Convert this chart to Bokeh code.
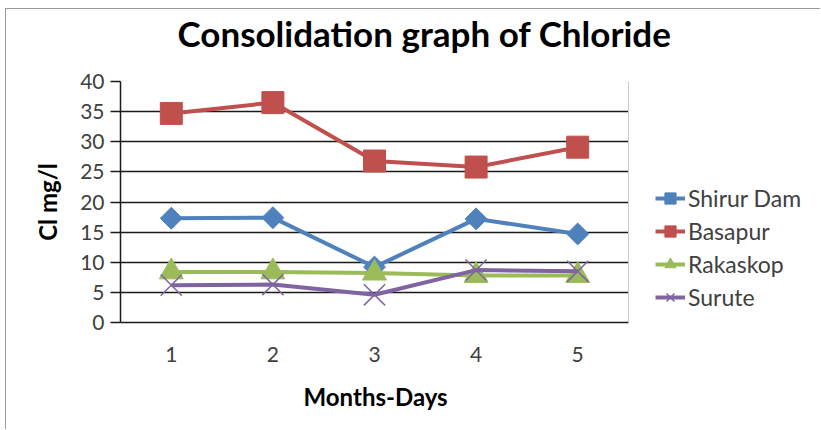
import math
from bokeh.plotting import figure
from bokeh.models import (Range1d, FixedTicker, Legend, LegendItem, ColumnDataSource,
                          Title, BoxAnnotation, Span)
from bokeh.embed import file_html
from bokeh.resources import INLINE

months = [1, 2, 3, 4, 5]
month_labels = ["1", "2", "3", "4", "5"]
shirur = [17.3, 17.4, 9.2, 17.2, 14.7]
basapur = [34.7, 36.5, 26.8, 25.8, 29.1]
rakaskop = [8.4, 8.4, 8.2, 7.8, 7.8]
surute = [6.2, 6.3, 4.6, 8.7, 8.5]
y_ticks = [0, 5, 10, 15, 20, 25, 30, 35, 40]

FONT = "Lato"
TXT = "#404040"

# layout (pixels)
W, H = 815, 421
LEFT, TOP, BOTTOM = 114, 71, 108
PLOT_W = 508                      # width of the data area
FRAME_W = W - LEFT                # frame extends to the right edge (legend lives there)
x_lo = months[0] - 0.5
x_hi_data = months[-1] + 0.5
x_hi = x_lo + (x_hi_data - x_lo) * FRAME_W / PLOT_W

p = figure(width=W, height=H, output_backend="svg", toolbar_location=None,
           x_range=Range1d(x_lo, x_hi), y_range=Range1d(y_ticks[0], y_ticks[-1]),
           min_border_left=LEFT, min_border_right=0, min_border_top=TOP,
           min_border_bottom=BOTTOM)
p.styles = {"border-top": "1px solid #9a9a9a", "border-left": "1px solid #9a9a9a",
            "margin-left": "5px", "margin-top": "8px"}

p.title.text = "Consolidation graph of Chloride"
p.title.text_font = FONT
p.title.text_font_size = "35px"
p.title.text_font_style = "bold"
p.title.text_color = "#000000"
p.title.align = "left"
p.title.offset = 57
p.title.standoff = 0

spacer = Title(text=" ", text_font_size="10px", standoff=15)
p.add_layout(spacer, "above")

p.outline_line_color = None
p.xgrid.grid_line_color = None
p.ygrid.grid_line_color = "#1a1a1a"
p.ygrid.grid_line_width = 1.5
p.ygrid.ticker = FixedTicker(ticks=y_ticks)

p.yaxis.ticker = FixedTicker(ticks=y_ticks)
p.yaxis.major_tick_out = 10
p.yaxis.major_tick_in = 0
p.yaxis.minor_tick_line_color = None
p.yaxis.major_label_standoff = 6
p.yaxis.axis_label = "Cl mg/l"
p.yaxis.axis_label_standoff = 15

p.xaxis.ticker = FixedTicker(ticks=months)
p.xaxis.bounds = (x_lo, x_hi_data)
p.xaxis.major_label_overrides = {m: l for m, l in zip(months, month_labels)}
p.xaxis.major_tick_out = 0
p.xaxis.major_tick_in = 0
p.xaxis.minor_tick_line_color = None
p.xaxis.major_label_standoff = 24

for ax in (p.xaxis, p.yaxis):
    ax.axis_line_color = "#1a1a1a"
    ax.axis_line_width = 1.5
    ax.major_tick_line_color = "#1a1a1a"
    ax.major_tick_line_width = 1.5
    ax.major_label_text_font = FONT
    ax.major_label_text_font_size = "21px"
    ax.major_label_text_color = TXT
    ax.axis_label_text_font = FONT
    ax.axis_label_text_font_size = "24px"
    ax.axis_label_text_font_style = "bold"
    ax.axis_label_text_color = "#000000"

# x-axis title, centred under the data area (not under the legend)
x_title = Title(text="Months-Days", text_font=FONT, text_font_size="24px",
                text_font_style="bold", text_color="#000000", align="left",
                offset=183, standoff=30)
p.add_layout(x_title, "below")

# blank out the grid to the right of the plot area, where the legend sits
p.add_layout(BoxAnnotation(left=x_hi_data, fill_color="white", fill_alpha=1,
                           line_color=None, level="underlay"))
p.add_layout(Span(location=x_hi_data, dimension="height", line_color="#c8c8c8",
                  line_width=1))

series = [
    ("Shirur Dam", shirur, "#4F81BD", "square", 15.5, math.pi / 4),
    ("Basapur", basapur, "#C0504D", "square", 22, 0),
    ("Rakaskop", rakaskop, "#9BBB59", "triangle", 24, 0),
    ("Surute", surute, "#8064A2", "x", 30, 0),
]

items = []
for name, vals, col, mk, sz, ang in series:
    src = ColumnDataSource(dict(x=months, y=vals))
    ln = p.line("x", "y", source=src, line_color=col, line_width=4)
    if mk == "x":
        sc = p.scatter("x", "y", source=src, marker=mk, size=sz, line_color=col,
                       line_width=1.5)
    else:
        sc = p.scatter("x", "y", source=src, marker=mk, size=sz, angle=ang,
                       fill_color=col, line_color=col, line_width=1)
    items.append(LegendItem(label=name, renderers=[ln, sc]))

legend = Legend(items=items, location=(535, 11))
legend.background_fill_alpha = 0
legend.border_line_color = None
legend.padding = 0
legend.margin = 0
legend.spacing = 5
legend.glyph_width = 30
legend.glyph_height = 28
legend.label_standoff = 3
legend.label_height = 28
legend.label_text_font = FONT
legend.label_text_font_size = "23px"
legend.label_text_color = TXT
p.add_layout(legend, "center")

open("out.html", "w").write(file_html(p, INLINE))
